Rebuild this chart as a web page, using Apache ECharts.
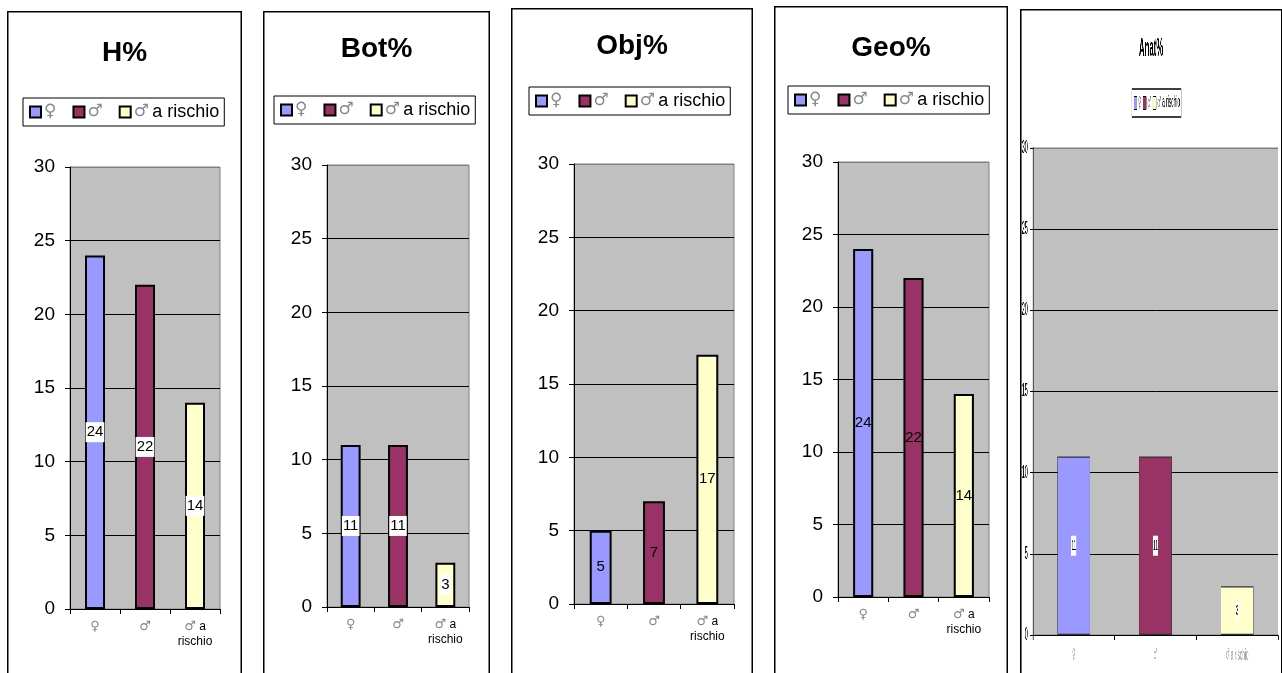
<!DOCTYPE html>
<html>
<head>
<meta charset="utf-8">
<script src="https://cdn.jsdelivr.net/npm/echarts@6/dist/echarts.min.js"></script>
<style>
  html, body { margin: 0; padding: 0; background: #fff; width: 1282px; height: 673px; overflow: hidden; }
  .panel { position: absolute; }
  #p5wrap { position: absolute; left: 1020px; top: 9px; width: 262px; height: 700px; overflow: visible; }
  #p5 { position: absolute; left: 0; top: 0; width: 874px; height: 700px; transform: scaleX(0.3); transform-origin: 0 0; }
</style>
</head>
<body>
<div id="p1" class="panel" style="left:7px;top:11px;width:235px;height:700px"></div>
<div id="p2" class="panel" style="left:263px;top:11px;width:227px;height:700px"></div>
<div id="p3" class="panel" style="left:511px;top:8px;width:242px;height:700px"></div>
<div id="p4" class="panel" style="left:774px;top:6px;width:234px;height:700px"></div>
<div id="p5wrap"><div id="p5"></div></div>
<script>
// Categories shared by every panel
const categories = ['♀', '♂', '♂ a rischio'];
// Percentages per panel
const hValues = [24, 22, 14];
const botValues = [11, 11, 3];
const objValues = [5, 7, 17];
const geoValues = [24, 22, 14];
const anatValues = [11, 11, 3];
// Panel titles
const panelTitles = ['H%', 'Bot%', 'Obj%', 'Geo%', 'Anat%'];
// Value axis range
const yMin = 0;
const yMax = 30;
const yStep = 5;

const barColors = ['#9999FF', '#993366', '#FFFFCC'];
const FONT = '"Liberation Sans", Arial, sans-serif';
const SYM_FONT = '"DejaVu Sans", sans-serif';

// Symbol glyph in grey, the rest of the text in black
function legendRich(name) {
  const sym = name[0];
  const rest = name.slice(1).trim();
  return rest ? '{s|' + sym + '} {t|' + rest + '}' : '{s|' + sym + '}';
}
function axisRich(name, wrap) {
  const parts = name.split(' ');
  if (parts.length === 1) return '{s|' + parts[0] + '}';
  if (!wrap) return '{s|' + parts[0] + '} {t|' + parts.slice(1).join(' ') + '}';
  return '{s|' + parts[0] + '} {t|' + parts[1] + '}\n{t|' + parts.slice(2).join(' ') + '}';
}

function buildOption(c) {
  const series = categories.map((name, i) => ({
    name: name,
    type: 'bar',
    stack: 'all',
    barWidth: c.barWidth,
    data: c.values.map((v, j) => (j === i ? v : '-')),
    itemStyle: { color: barColors[i], borderColor: c.barBorderColor, borderWidth: c.barBorder },
    label: {
      show: true,
      position: 'inside',
      color: '#000',
      fontFamily: FONT,
      fontSize: c.labelSize,
      backgroundColor: c.labelBg ? '#fff' : 'transparent',
      padding: c.labelBg ? [3, 1, 2, 1] : 0
    }
  }));

  const gridLines = [];
  for (let k = 0; k < (yMax - yMin) / yStep; k++) gridLines.push('#000');
  gridLines.push('#808080');

  return {
    animation: false,
    backgroundColor: 'transparent',
    title: {
      text: c.title,
      left: 'center',
      top: c.titleTop,
      padding: 0,
      textStyle: { fontFamily: FONT, fontSize: c.titleSize, fontWeight: c.titleWeight, color: '#000' }
    },
    legend: {
      left: c.legendLeft,
      top: c.legendTop,
      orient: 'horizontal',
      icon: 'rect',
      itemWidth: c.legendItemW,
      itemHeight: c.legendItemH,
      itemGap: c.legendGap,
      padding: c.legendPad,
      backgroundColor: '#fff',
      borderColor: '#000',
      borderWidth: c.legendBorder,
      borderRadius: 0,
      itemStyle: { borderColor: '#000', borderWidth: c.legendMarkBorder },
      formatter: legendRich,
      textStyle: {
        fontFamily: FONT,
        padding: [0, 0, 0, -2],
        rich: {
          s: { fontFamily: SYM_FONT, fontSize: c.legendSymSize, color: '#888' },
          t: { fontFamily: FONT, fontSize: c.legendSize, color: '#000' }
        }
      },
      data: categories
    },
    grid: {
      left: c.grid[0], top: c.grid[1], width: c.grid[2], height: c.grid[3],
      show: true,
      backgroundColor: '#C0C0C0',
      borderColor: '#808080',
      borderWidth: c.gridBorder,
      containLabel: false,
      outerBoundsMode: 'none'
    },
    xAxis: {
      type: 'category',
      data: categories,
      axisLine: { show: true, lineStyle: { color: '#000', width: c.xAxisWidth } },
      axisTick: { show: true, length: c.xTickLen, lineStyle: { color: '#000', width: c.xTickWidth } },
      axisLabel: {
        interval: 0,
        margin: c.xLabelMargin,
        formatter: (v) => axisRich(v, c.wrapX),
        rich: {
          s: { fontFamily: SYM_FONT, fontSize: c.xSymSize, color: c.xSymColor, lineHeight: c.xLineHeight },
          t: { fontFamily: FONT, fontSize: c.xLabelSize, color: c.xTextColor, lineHeight: c.xLineHeight }
        }
      },
      splitLine: { show: false }
    },
    yAxis: {
      type: 'value',
      min: yMin,
      max: yMax,
      interval: yStep,
      axisLine: { show: true, lineStyle: { color: '#000', width: c.yAxisWidth } },
      axisTick: { show: true, inside: false, length: c.yTickLen, lineStyle: { color: '#000', width: 1 } },
      axisLabel: { margin: c.yLabelMargin, color: '#000', fontFamily: FONT, fontSize: c.yLabelSize },
      splitLine: { show: true, lineStyle: { color: gridLines, width: 1 } }
    },
    graphic: c.frame,
    series: series
  };
}

function outlineFrame(w) {
  return [{
    type: 'rect', silent: true, z: 100,
    shape: { x: 0.75, y: 0.75, width: w - 1.5, height: 760 },
    style: { fill: 'none', stroke: '#000', lineWidth: 1.5 }
  }];
}

const common = {
  barBorder: 2, barBorderColor: '#000', labelSize: 15,
  titleSize: 28, titleWeight: 'bold',
  legendItemW: 11, legendItemH: 11, legendGap: 16, legendPad: [5, 5, 5, 6],
  legendBorder: 1, legendMarkBorder: 2, legendSize: 18, legendSymSize: 17,
  gridBorder: 1, xAxisWidth: 1, yAxisWidth: 1, xTickWidth: 1, xTickLen: 5, yTickLen: 5,
  xLabelMargin: 10, xLabelSize: 12, xSymSize: 13, xLineHeight: 15, xSymColor: '#888', xTextColor: '#000', wrapX: true,
  yLabelMargin: 15, yLabelSize: 19, barWidth: '40%'
};

const panels = [
  { id: 'p1', values: hValues, title: panelTitles[0], w: 235, titleTop: 28, legendLeft: 16, legendTop: 87, grid: [63, 156, 150, 442], labelBg: true },
  { id: 'p2', values: botValues, title: panelTitles[1], w: 227, titleTop: 24, legendLeft: 11, legendTop: 85, grid: [64, 154, 142, 442], labelBg: true, barWidth: '42%' },
  { id: 'p3', values: objValues, title: panelTitles[2], w: 242, titleTop: 24, legendLeft: 18, legendTop: 79, grid: [63, 156, 160, 440], labelBg: false, barWidth: '41%' },
  { id: 'p4', values: geoValues, title: panelTitles[3], w: 234, titleTop: 28, legendLeft: 14, legendTop: 80, grid: [64, 156, 151, 435], labelBg: false }
];

panels.forEach((p) => {
  const cfg = Object.assign({}, common, p, { frame: outlineFrame(p.w) });
  const chart = echarts.init(document.getElementById(p.id), null, { renderer: 'canvas' });
  chart.setOption(buildOption(cfg));
});

// Fifth panel: laid out wide, then squeezed horizontally by the container transform
const p5W = 874;
const p5Frame = [
  { type: 'rect', silent: true, z: 100, shape: { x: 0, y: 0, width: 5, height: 760 }, style: { fill: '#000' } },
  { type: 'rect', silent: true, z: 100, shape: { x: p5W - 5, y: 0, width: 5, height: 760 }, style: { fill: '#000' } },
  { type: 'rect', silent: true, z: 100, shape: { x: 0, y: 0, width: p5W, height: 1.5 }, style: { fill: '#000' } }
];
const p5cfg = Object.assign({}, common, {
  values: anatValues, title: panelTitles[4],
  titleTop: 27, titleSize: 26, titleWeight: 'bold',
  legendLeft: 373, legendTop: 80, legendItemW: 11, legendItemH: 13, legendGap: 5, legendPad: [6, 4, 6, 6],
  legendBorder: 1.5, legendMarkBorder: 1, legendSize: 16, legendSymSize: 15,
  grid: [43, 139, 817, 487], gridBorder: 1, xAxisWidth: 1.2, yAxisWidth: 3, xTickWidth: 3,
  barBorder: 1.2, barBorderColor: '#333', labelBg: true, labelSize: 15,
  xTickLen: 5, yTickLen: 10, xLabelMargin: 13, xLabelSize: 16, xSymSize: 15, xSymColor: '#aaa', xTextColor: '#999', wrapX: false,
  yLabelMargin: 17, yLabelSize: 18, barWidth: '40%',
  frame: p5Frame
});
const chart5 = echarts.init(document.getElementById('p5'), null, { renderer: 'canvas' });
chart5.setOption(buildOption(p5cfg));
</script>
</body>
</html>
